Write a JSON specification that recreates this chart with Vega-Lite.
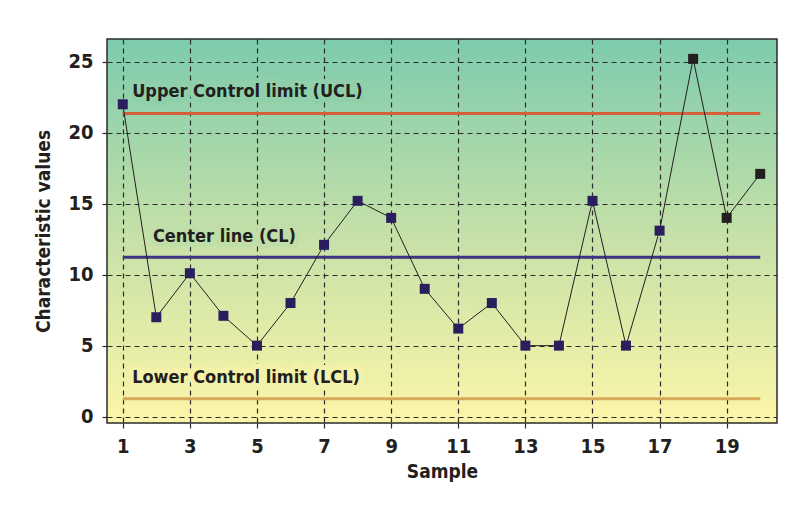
{
  "$schema": "https://vega.github.io/schema/vega-lite/v6.json",
  "width": 670,
  "height": 384,
  "autosize": {"type": "none"},
  "padding": {"left": 107, "top": 39, "right": 23, "bottom": 89},
  "background": "#ffffff",
  "config": {
    "font": "DejaVu Sans Condensed, sans-serif",
    "view": {
      "fill": {"gradient": "linear", "x1": 0, "y1": 0, "x2": 0, "y2": 1,
        "stops": [{"offset": 0, "color": "#7dcbad"}, {"offset": 0.5, "color": "#c4e0a8"}, {"offset": 1, "color": "#fcf6a8"}]},
      "stroke": "#2b2b2b",
      "strokeWidth": 1.5
    },
    "axis": {
      "labelFont": "DejaVu Sans Condensed, sans-serif",
      "titleFont": "DejaVu Sans Condensed, sans-serif",
      "labelFontSize": 20,
      "labelFontWeight": "bold",
      "labelColor": "#231f20",
      "titleFontSize": 19,
      "titleFontWeight": "bold",
      "titleColor": "#231f20",
      "domain": false,
      "gridColor": "#2b2b2b",
      "gridOpacity": 1,
      "gridWidth": 1.2,
      "gridDash": [5, 4],
      "tickColor": "#2b2b2b",
      "tickWidth": 1.2,
      "tickDash": [5, 4],
      "tickSize": 9
    }
  },
  "datasets": {
    "points": [
      {"sample": 1, "value": 22, "grp": "a"},
      {"sample": 2, "value": 7, "grp": "a"},
      {"sample": 3, "value": 10.1, "grp": "a"},
      {"sample": 4, "value": 7.1, "grp": "a"},
      {"sample": 5, "value": 5, "grp": "a"},
      {"sample": 6, "value": 8, "grp": "a"},
      {"sample": 7, "value": 12.1, "grp": "a"},
      {"sample": 8, "value": 15.2, "grp": "a"},
      {"sample": 9, "value": 14, "grp": "a"},
      {"sample": 10, "value": 9, "grp": "a"},
      {"sample": 11, "value": 6.2, "grp": "a"},
      {"sample": 12, "value": 8, "grp": "a"},
      {"sample": 13, "value": 5, "grp": "a"},
      {"sample": 14, "value": 5, "grp": "a"},
      {"sample": 15, "value": 15.2, "grp": "a"},
      {"sample": 16, "value": 5, "grp": "a"},
      {"sample": 17, "value": 13.1, "grp": "a"},
      {"sample": 18, "value": 25.2, "grp": "b"},
      {"sample": 19, "value": 14, "grp": "b"},
      {"sample": 20, "value": 17.1, "grp": "b"}
    ],
    "limits": [
      {"name": "UCL", "y": 21.35, "from": 1, "to": 20},
      {"name": "CL", "y": 11.23, "from": 1, "to": 20},
      {"name": "LCL", "y": 1.25, "from": 1, "to": 20}
    ],
    "labels": [
      {"name": "UCL", "text": "Upper Control limit (UCL)", "x": 1.28, "y": 22.85},
      {"name": "CL", "text": "Center line (CL)", "x": 1.9, "y": 12.65},
      {"name": "LCL", "text": "Lower Control limit (LCL)", "x": 1.28, "y": 2.75}
    ]
  },
  "layer": [
    {
      "data": {"name": "limits"},
      "mark": {"type": "rule", "strokeWidth": 3},
      "encoding": {
        "x": {"field": "from", "type": "quantitative",
          "scale": {"domain": [0.53, 20.5], "nice": false, "zero": false},
          "axis": {"values": [1, 3, 5, 7, 9, 11, 13, 15, 17, 19], "title": "Sample", "labelPadding": 4, "titlePadding": 6}},
        "x2": {"field": "to"},
        "y": {"field": "y", "type": "quantitative",
          "scale": {"domain": [-0.45, 26.6], "nice": false, "zero": false},
          "axis": {"values": [0, 2.5, 5, 7.5, 10, 12.5, 15, 17.5, 20, 22.5, 25],
            "labelExpr": "datum.value % 5 == 0 ? datum.label : ''",
            "title": "Characteristic values", "labelPadding": 5, "titlePadding": 14}},
        "color": {"field": "name", "type": "nominal",
          "scale": {"domain": ["UCL", "CL", "LCL"], "range": ["#d6603a", "#3d3380", "#d9a75a"]},
          "legend": null}
      }
    },
    {
      "data": {"name": "points"},
      "mark": {"type": "line", "color": "#231f20", "strokeWidth": 1},
      "encoding": {
        "x": {"field": "sample", "type": "quantitative"},
        "y": {"field": "value", "type": "quantitative"}
      }
    },
    {
      "data": {"name": "points"},
      "mark": {"type": "square", "size": 100, "opacity": 1, "filled": true},
      "encoding": {
        "x": {"field": "sample", "type": "quantitative"},
        "y": {"field": "value", "type": "quantitative"},
        "fill": {"field": "grp", "type": "nominal",
          "scale": {"domain": ["a", "b"], "range": ["#2a1f5e", "#231f20"]}, "legend": null}
      }
    },
    {
      "data": {"name": "labels"},
      "mark": {"type": "text", "align": "left", "baseline": "middle", "fontSize": 18, "fontWeight": "bold",
        "strokeWidth": 10, "strokeJoin": "round", "font": "DejaVu Sans Condensed, sans-serif"},
      "encoding": {
        "x": {"field": "x", "type": "quantitative"},
        "y": {"field": "y", "type": "quantitative"},
        "text": {"field": "text"},
        "fill": {"field": "name", "type": "nominal", "legend": null,
          "scale": {"domain": ["UCL", "CL", "LCL"], "range": ["#8fd0ab", "#bfdea8", "#f4f1a8"]}},
        "stroke": {"field": "name", "type": "nominal", "legend": null,
          "scale": {"domain": ["UCL", "CL", "LCL"], "range": ["#8fd0ab", "#bfdea8", "#f4f1a8"]}}
      }
    },
    {
      "data": {"name": "labels"},
      "mark": {"type": "text", "align": "left", "baseline": "middle", "fontSize": 18, "fontWeight": "bold", "color": "#231f20",
        "font": "DejaVu Sans Condensed, sans-serif"},
      "encoding": {
        "x": {"field": "x", "type": "quantitative"},
        "y": {"field": "y", "type": "quantitative"},
        "text": {"field": "text"}
      }
    }
  ]
}
